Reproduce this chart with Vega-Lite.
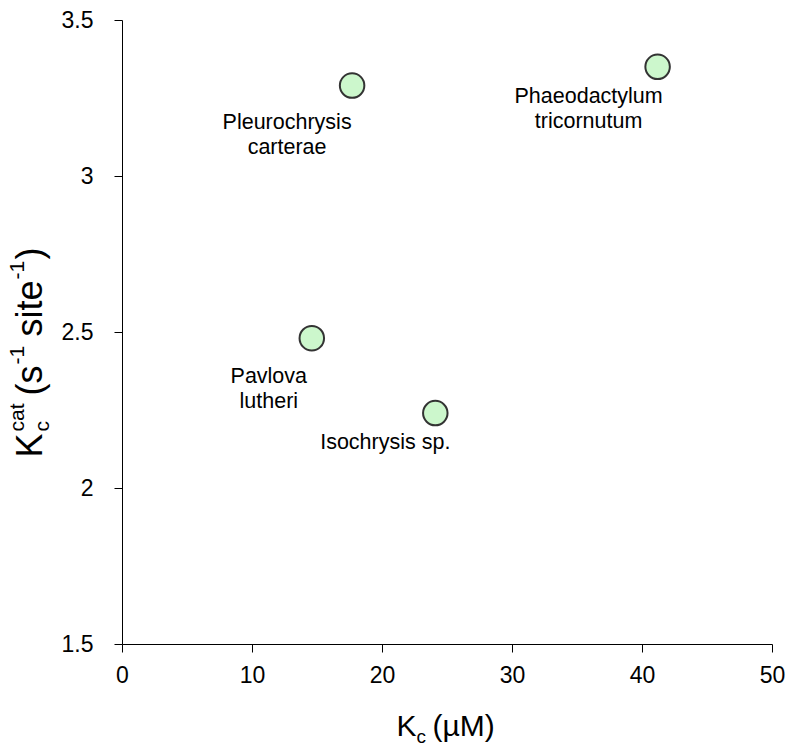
{
  "$schema": "https://vega.github.io/schema/vega-lite/v6.json",
  "width": 650,
  "height": 624,
  "autosize": "none",
  "padding": {"left": 122, "top": 20, "right": 17, "bottom": 106},
  "background": "white",
  "config": {
    "view": {"stroke": null},
    "font": "Liberation Sans",
    "axis": {
      "domainColor": "#000000",
      "tickColor": "#000000",
      "labelColor": "#000000",
      "titleColor": "#000000",
      "titleFont": "Liberation Sans",
      "labelFont": "Liberation Sans",
      "titleFontWeight": "normal",
      "grid": false
    }
  },
  "datasets": {
    "species": [
      {"species": "Pleurochrysis carterae", "label": "Pleurochrysis\ncarterae", "kc": 17.7, "kcat": 3.29},
      {"species": "Phaeodactylum tricornutum", "label": "Phaeodactylum\ntricornutum", "kc": 41.2, "kcat": 3.35},
      {"species": "Pavlova lutheri", "label": "Pavlova\nlutheri", "kc": 14.6, "kcat": 2.48},
      {"species": "Isochrysis sp.", "label": "Isochrysis sp.", "kc": 24.1, "kcat": 2.24}
    ]
  },
  "data": {"name": "species"},
  "resolve": {"axis": {"x": "independent", "y": "independent"}},
  "layer": [
    {
      "mark": {"type": "point", "filled": true, "shape": "circle", "size": 600, "fill": "#ccf7cc", "stroke": "#333333", "strokeWidth": 2, "opacity": 1},
      "encoding": {
        "x": {
          "field": "kc", "type": "quantitative",
          "scale": {"domain": [0, 50], "nice": false, "zero": false},
          "axis": {
            "orient": "bottom", "values": [0, 10, 20, 30, 40, 50], "tickSize": 8, "labelPadding": 12,
            "labelFontSize": 23, "labelFlush": false, "labelOverlap": false,
            "title": "K", "titleFontSize": 30, "titleAlign": "left", "titleBaseline": "alphabetic",
            "titleX": 274, "titleY": 91
          }
        },
        "y": {
          "field": "kcat", "type": "quantitative",
          "scale": {"domain": [1.5, 3.5], "nice": false, "zero": false},
          "axis": {
            "orient": "left", "values": [1.5, 2, 2.5, 3, 3.5], "format": "~g", "tickSize": 8, "labelPadding": 21,
            "labelFontSize": 23, "labelFlush": false, "labelOverlap": false,
            "title": "K", "titleFontSize": 36, "titleAngle": -90, "titleAlign": "left", "titleBaseline": "alphabetic",
            "titleX": -81, "titleY": 437
          }
        }
      }
    },
    {
      "transform": [{"filter": "datum.species === 'Pleurochrysis carterae'"}],
      "mark": {"type": "text", "fontSize": 21.5, "align": "center", "baseline": "alphabetic", "lineBreak": "\n", "lineHeight": 25, "dx": -65, "dy": 43, "color": "#000000"},
      "encoding": {
        "x": {"field": "kc", "type": "quantitative", "axis": {"orient": "bottom", "domain": false, "ticks": false, "labels": false, "title": "c", "titleFontSize": 19, "titleAlign": "left", "titleBaseline": "alphabetic", "titleX": 294, "titleY": 98}},
        "y": {"field": "kcat", "type": "quantitative", "axis": {"orient": "left", "domain": false, "ticks": false, "labels": false, "title": "c", "titleFontSize": 21, "titleAngle": -90, "titleAlign": "left", "titleBaseline": "alphabetic", "titleX": -74, "titleY": 411}},
        "text": {"field": "label"}
      }
    },
    {
      "transform": [{"filter": "datum.species === 'Phaeodactylum tricornutum'"}],
      "mark": {"type": "text", "fontSize": 21.5, "align": "center", "baseline": "alphabetic", "lineBreak": "\n", "lineHeight": 25, "dx": -69, "dy": 36, "color": "#000000"},
      "encoding": {
        "x": {"field": "kc", "type": "quantitative", "axis": {"orient": "bottom", "domain": false, "ticks": false, "labels": false, "title": "(µM)", "titleFontSize": 30, "titleAlign": "left", "titleBaseline": "alphabetic", "titleX": 310, "titleY": 91}},
        "y": {"field": "kcat", "type": "quantitative", "axis": {"orient": "left", "domain": false, "ticks": false, "labels": false, "title": "cat", "titleFontSize": 21, "titleAngle": -90, "titleAlign": "left", "titleBaseline": "alphabetic", "titleX": -99, "titleY": 411}},
        "text": {"field": "label"}
      }
    },
    {
      "transform": [{"filter": "datum.species === 'Pavlova lutheri'"}],
      "mark": {"type": "text", "fontSize": 21.5, "align": "center", "baseline": "alphabetic", "lineBreak": "\n", "lineHeight": 25, "dx": -43, "dy": 45, "color": "#000000"},
      "encoding": {
        "x": {"field": "kc", "type": "quantitative", "axis": null},
        "y": {"field": "kcat", "type": "quantitative", "axis": {"orient": "left", "domain": false, "ticks": false, "labels": false, "title": "(s", "titleFontSize": 36, "titleAngle": -90, "titleAlign": "left", "titleBaseline": "alphabetic", "titleX": -81, "titleY": 375}},
        "text": {"field": "label"}
      }
    },
    {
      "transform": [{"filter": "datum.species === 'Isochrysis sp.'"}],
      "mark": {"type": "text", "fontSize": 21.5, "align": "center", "baseline": "alphabetic", "dx": -50, "dy": 36, "color": "#000000"},
      "encoding": {
        "x": {"field": "kc", "type": "quantitative", "axis": null},
        "y": {"field": "kcat", "type": "quantitative", "axis": {"orient": "left", "domain": false, "ticks": false, "labels": false, "title": "-1", "titleFontSize": 21, "titleAngle": -90, "titleAlign": "left", "titleBaseline": "alphabetic", "titleX": -99, "titleY": 344}},
        "text": {"field": "label"}
      }
    },
    {
      "mark": {"type": "point", "opacity": 0},
      "encoding": {
        "x": {"field": "kc", "type": "quantitative", "axis": null},
        "y": {"field": "kcat", "type": "quantitative", "axis": {"orient": "left", "domain": false, "ticks": false, "labels": false, "title": "site", "titleFontSize": 36, "titleAngle": -90, "titleAlign": "left", "titleBaseline": "alphabetic", "titleX": -81, "titleY": 316}}
      }
    },
    {
      "mark": {"type": "point", "opacity": 0},
      "encoding": {
        "x": {"field": "kc", "type": "quantitative", "axis": null},
        "y": {"field": "kcat", "type": "quantitative", "axis": {"orient": "left", "domain": false, "ticks": false, "labels": false, "title": "-1", "titleFontSize": 21, "titleAngle": -90, "titleAlign": "left", "titleBaseline": "alphabetic", "titleX": -99, "titleY": 259}}
      }
    },
    {
      "mark": {"type": "point", "opacity": 0},
      "encoding": {
        "x": {"field": "kc", "type": "quantitative", "axis": null},
        "y": {"field": "kcat", "type": "quantitative", "axis": {"orient": "left", "domain": false, "ticks": false, "labels": false, "title": ")", "titleFontSize": 36, "titleAngle": -90, "titleAlign": "left", "titleBaseline": "alphabetic", "titleX": -81, "titleY": 239}}
      }
    }
  ]
}
